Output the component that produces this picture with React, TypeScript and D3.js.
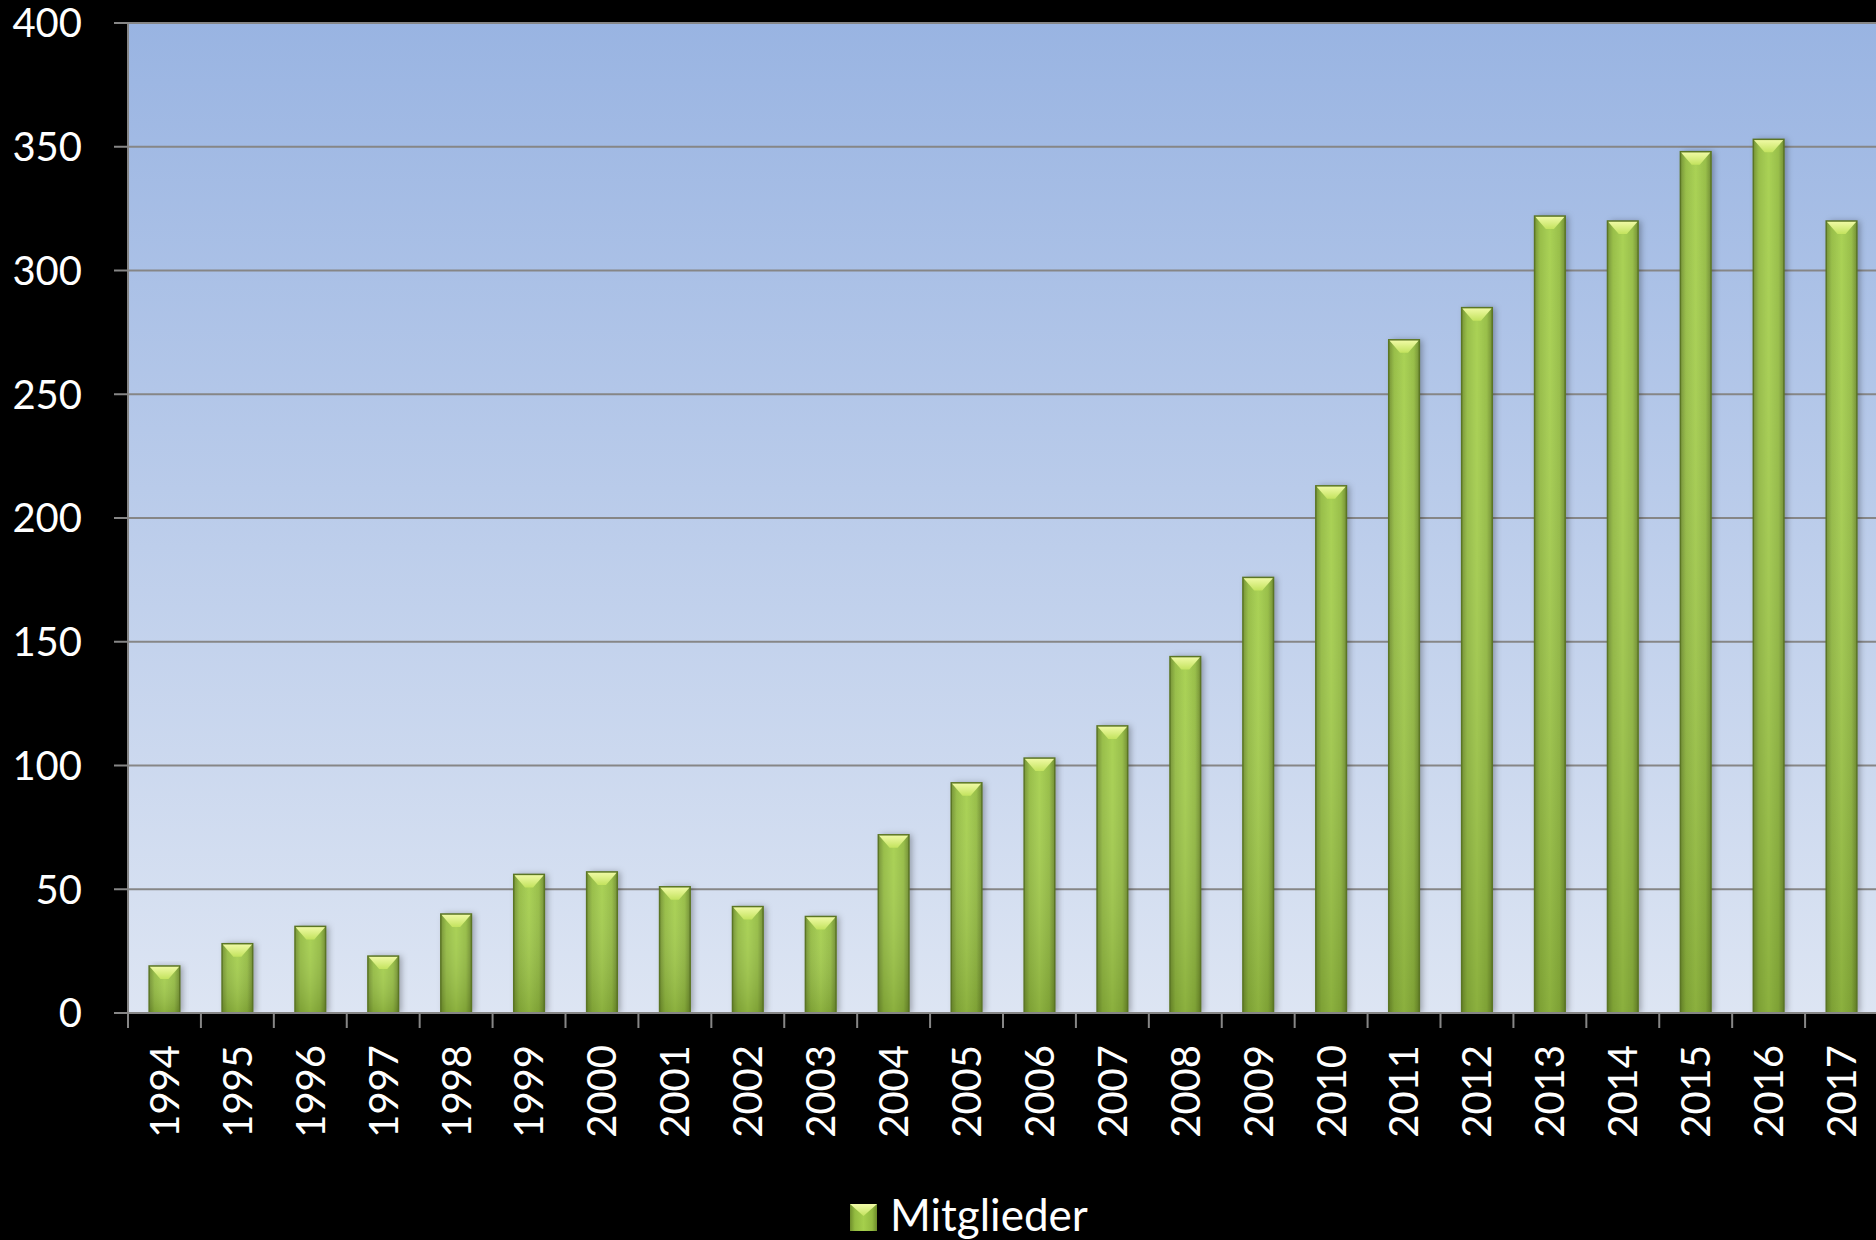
import * as d3 from "d3";

const years = [
  "1994", "1995", "1996", "1997", "1998", "1999", "2000", "2001", "2002", "2003", "2004", "2005",
  "2006", "2007", "2008", "2009", "2010", "2011", "2012", "2013", "2014", "2015", "2016", "2017",
];
const members = [19, 28, 35, 23, 40, 56, 57, 51, 43, 39, 72, 93, 103, 116, 144, 176, 213, 272, 285, 322, 320, 348, 353, 320];
const yTicks = [0, 50, 100, 150, 200, 250, 300, 350, 400];
const seriesName = "Mitglieder";

const width = 1876;
const height = 1240;
const margin = { left: 128, top: 23, right: -2, bottom: 227 };
const font = "Lato, 'Open Sans', sans-serif";

export default function App() {
  const x = d3
    .scaleBand<string>()
    .domain(years)
    .range([margin.left, width - margin.right])
    .paddingInner(0.58)
    .paddingOuter(0.29);
  const y = d3.scaleLinear().domain([0, 400]).range([height - margin.bottom, margin.top]);
  const step = x.step();
  const y0 = y(0);

  return (
    <svg
      width={width}
      height={height}
      viewBox={`0 0 ${width} ${height}`}
      style={{ position: "absolute", left: 0, top: 0, display: "block" }}
    >
      <defs>
        <linearGradient id="bg" x1="0" y1="0" x2="0" y2="1">
          <stop offset="0%" stopColor="#99b4e2" />
          <stop offset="100%" stopColor="#dde5f3" />
        </linearGradient>
        <linearGradient id="barH" x1="0" y1="0" x2="1" y2="0">
          <stop offset="0%" stopColor="#6f8e2c" />
          <stop offset="18%" stopColor="#93bb40" />
          <stop offset="50%" stopColor="#a5cf4c" />
          <stop offset="82%" stopColor="#93bb40" />
          <stop offset="100%" stopColor="#6c8a2a" />
        </linearGradient>
        <linearGradient id="barV" x1="0" y1="0" x2="0" y2="1">
          <stop offset="0%" stopColor="#ffffff" stopOpacity={0.05} />
          <stop offset="100%" stopColor="#3d5214" stopOpacity={0.25} />
        </linearGradient>
        <linearGradient id="cap" x1="0" y1="0" x2="0" y2="1">
          <stop offset="0%" stopColor="#f2fba8" />
          <stop offset="100%" stopColor="#c3e35e" />
        </linearGradient>
        <filter id="shadow" x="-30%" y="-10%" width="160%" height="120%">
          <feDropShadow dx="3" dy="0" stdDeviation="3" floodColor="#000" floodOpacity={0.3} />
        </filter>
      </defs>
      <rect x={0} y={0} width={width} height={height} fill="#000" />
      <rect
        x={margin.left}
        y={margin.top}
        width={width - margin.right - margin.left}
        height={y0 - margin.top}
        fill="url(#bg)"
      />
      {/* grid lines + y ticks */}
      {yTicks.map((t) => (
        <g key={t}>
          <line x1={margin.left - 14} x2={width} y1={y(t)} y2={y(t)} stroke="#868686" strokeWidth={2} />
          <text
            x={82}
            y={y(t)}
            dy="0.36em"
            textAnchor="end"
            fill="#fff"
            fontFamily={font}
            fontSize={40}
          >
            {t}
          </text>
        </g>
      ))}
      {/* bars */}
      {years.map((yr, i) => {
        const bx = x(yr) ?? 0;
        const bw = x.bandwidth();
        const top = y(members[i]);
        const h = y0 - top;
        const cx = bx + bw / 2;
        return (
          <g key={yr}>
            <rect x={bx} y={top} width={bw} height={h} fill="url(#barH)" filter="url(#shadow)" />
            <rect x={bx} y={top} width={bw} height={h} fill="url(#barV)" />
            <polygon
              points={`${bx},${top} ${bx + bw},${top} ${cx + 4},${top + 13} ${cx - 4},${top + 13}`}
              fill="url(#cap)"
            />
            <rect x={bx} y={top} width={bw} height={h} fill="none" stroke="#5b7624" strokeWidth={1.5} />
          </g>
        );
      })}
      {/* axes */}
      <line x1={margin.left} x2={margin.left} y1={margin.top} y2={y0 + 15} stroke="#868686" strokeWidth={2} />
      <line x1={margin.left} x2={width} y1={y0} y2={y0} stroke="#868686" strokeWidth={2} />
      {years.map((yr, i) => (
        <line
          key={`t${yr}`}
          x1={margin.left + i * step}
          x2={margin.left + i * step}
          y1={y0}
          y2={y0 + 15}
          stroke="#868686"
          strokeWidth={2}
        />
      ))}
      {years.map((yr) => {
        const cx = (x(yr) ?? 0) + x.bandwidth() / 2;
        return (
          <text
            key={`l${yr}`}
            transform={`translate(${cx},${y0 + 32}) rotate(-90)`}
            textAnchor="end"
            dy="0.36em"
            fill="#fff"
            fontFamily={font}
            fontSize={40}
          >
            {yr}
          </text>
        );
      })}
      {/* legend */}
      <g transform="translate(850,1204)">
        <rect x={0} y={0} width={27} height={27} fill="url(#barH)" />
        <polygon points="0,0 27,0 13.5,12" fill="url(#cap)" />
        <text x={40} y={27} fill="#fff" fontFamily={font} fontSize={44}>
          {seriesName}
        </text>
      </g>
    </svg>
  );
}
